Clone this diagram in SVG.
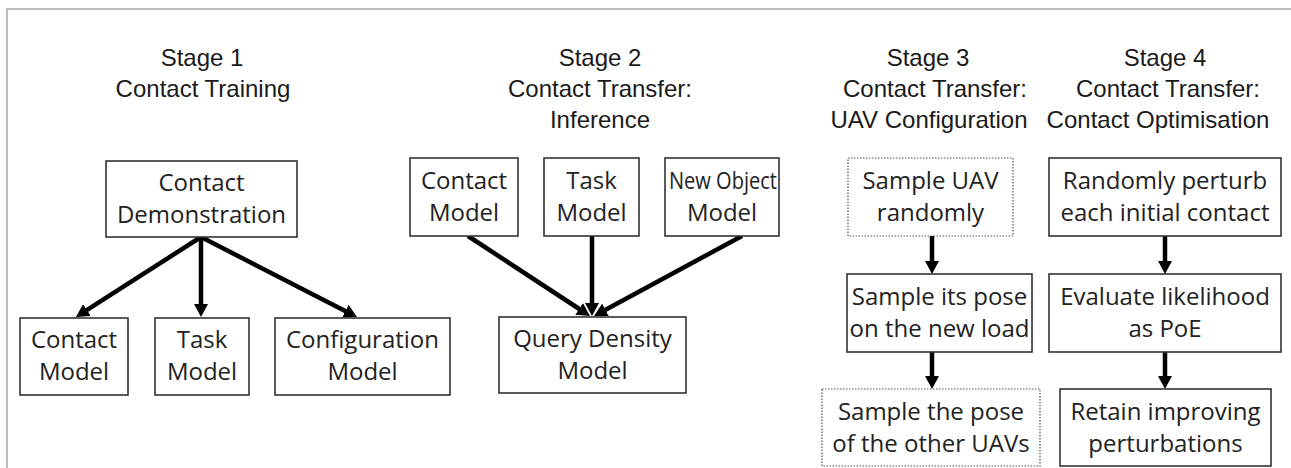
<svg xmlns="http://www.w3.org/2000/svg" width="1291" height="468" viewBox="0 0 1291 468">
<style>
.frame{stroke:#bdbdbd;stroke-width:2;fill:none}
.title{font-family:"Liberation Sans",Arial,sans-serif;font-size:24px;fill:#1a1a1a;text-anchor:middle}
.box{fill:#fff;stroke:#333;stroke-width:1.6}
.dot{fill:#fff;stroke:#555;stroke-width:1.2;stroke-dasharray:1.5 1.5}
.lbl{font-family:"Open Sans","Noto Sans",sans-serif;font-size:24px;fill:#222;text-anchor:middle}
.arr{stroke:#000;stroke-width:4.5;fill:none;marker-end:url(#ah)}
</style>
<defs>
<marker id="ah" markerUnits="userSpaceOnUse" markerWidth="13" markerHeight="14" refX="3" refY="7" orient="auto">
<path d="M0,0 L13,7 L0,14 z" fill="#000"/>
</marker>
</defs>
<rect width="1291" height="468" fill="#fff"/>
<path class="frame" d="M7,468 V9 H1291"/>
<g id="titles">
<text class="title" x="202" y="66">Stage 1</text>
<text class="title" x="203" y="97">Contact Training</text>
<text class="title" x="600" y="66">Stage 2</text>
<text class="title" x="600" y="97">Contact Transfer:</text>
<text class="title" x="600" y="128">Inference</text>
<text class="title" x="928" y="66">Stage 3</text>
<text class="title" x="935" y="97">Contact Transfer:</text>
<text class="title" x="929" y="128">UAV Configuration</text>
<text class="title" x="1165" y="66">Stage 4</text>
<text class="title" x="1168" y="97">Contact Transfer:</text>
<text class="title" x="1158" y="128">Contact Optimisation</text>
</g>
<g id="connectors">
<line class="arr" x1="201" y1="237" x2="84.4" y2="311.6"/>
<line class="arr" x1="201" y1="237" x2="201" y2="307"/>
<line class="arr" x1="201" y1="237" x2="348.1" y2="312.4"/>
<line class="arr" x1="468" y1="236" x2="581.6" y2="310.5"/>
<line class="arr" x1="592" y1="236" x2="592" y2="306"/>
<line class="arr" x1="742" y1="236" x2="602.8" y2="311.2"/>
<line class="arr" x1="932" y1="236" x2="932" y2="264"/>
<line class="arr" x1="932" y1="352" x2="932" y2="379"/>
<line class="arr" x1="1165" y1="236" x2="1165" y2="264"/>
<line class="arr" x1="1165" y1="352" x2="1165" y2="379"/>
</g>
<g id="contact-demonstration">
<rect class="box" x="106" y="161" width="191" height="76"/>
<text class="lbl" x="201.5" y="191">Contact</text>
<text class="lbl" x="201.5" y="223">Demonstration</text>
</g>
<g id="s1-contact-model">
<rect class="box" x="20" y="318" width="108" height="77"/>
<text class="lbl" x="74" y="348">Contact</text>
<text class="lbl" x="74" y="380">Model</text>
</g>
<g id="s1-task-model">
<rect class="box" x="155" y="318" width="94" height="77"/>
<text class="lbl" x="202" y="348">Task</text>
<text class="lbl" x="202" y="380">Model</text>
</g>
<g id="s1-configuration-model">
<rect class="box" x="275" y="318" width="175" height="77"/>
<text class="lbl" x="362.5" y="348">Configuration</text>
<text class="lbl" x="362.5" y="380">Model</text>
</g>
<g id="s2-contact-model">
<rect class="box" x="410" y="158" width="108" height="78"/>
<text class="lbl" x="464" y="189">Contact</text>
<text class="lbl" x="464" y="221">Model</text>
</g>
<g id="s2-task-model">
<rect class="box" x="544" y="158" width="95" height="78"/>
<text class="lbl" x="591.5" y="189">Task</text>
<text class="lbl" x="591.5" y="221">Model</text>
</g>
<g id="s2-new-object-model">
<rect class="box" x="665" y="158" width="114" height="78"/>
<text class="lbl" x="723" y="189" textLength="108" lengthAdjust="spacingAndGlyphs">New Object</text>
<text class="lbl" x="722" y="221">Model</text>
</g>
<g id="s2-query-density-model">
<rect class="box" x="499" y="317" width="187" height="76"/>
<text class="lbl" x="592.5" y="347">Query Density</text>
<text class="lbl" x="592.5" y="379">Model</text>
</g>
<g id="s3-sample-uav">
<rect class="dot" x="848" y="158" width="165" height="78"/>
<text class="lbl" x="930.5" y="189">Sample UAV</text>
<text class="lbl" x="930.5" y="221">randomly</text>
</g>
<g id="s3-sample-its-pose">
<rect class="box" x="847" y="274" width="185" height="78"/>
<text class="lbl" x="939.5" y="305">Sample its pose</text>
<text class="lbl" x="939.5" y="337">on the new load</text>
</g>
<g id="s3-sample-other-uavs">
<rect class="dot" x="822" y="389" width="218" height="77"/>
<text class="lbl" x="931" y="420">Sample the pose</text>
<text class="lbl" x="931" y="452">of the other UAVs</text>
</g>
<g id="s4-randomly-perturb">
<rect class="box" x="1049" y="158" width="232" height="78"/>
<text class="lbl" x="1165" y="189">Randomly perturb</text>
<text class="lbl" x="1165" y="221">each initial contact</text>
</g>
<g id="s4-evaluate-likelihood">
<rect class="box" x="1049" y="274" width="232" height="78"/>
<text class="lbl" x="1165" y="305">Evaluate likelihood</text>
<text class="lbl" x="1165" y="337">as PoE</text>
</g>
<g id="s4-retain-improving">
<rect class="box" x="1060" y="389" width="211" height="77"/>
<text class="lbl" x="1165.5" y="420">Retain improving</text>
<text class="lbl" x="1165.5" y="452">perturbations</text>
</g>
</svg>
